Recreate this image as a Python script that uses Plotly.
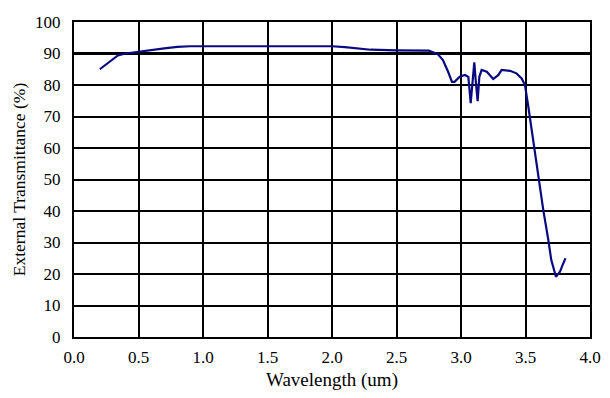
import plotly.graph_objects as go

wavelength = [0.20, 0.25, 0.30, 0.34, 0.40, 0.50, 0.60, 0.70, 0.80, 0.90, 1.20, 1.60, 2.00,
              2.10, 2.20, 2.30, 2.50, 2.75, 2.82, 2.86, 2.90, 2.93, 2.95, 2.99, 3.03, 3.057,
              3.075, 3.09, 3.103, 3.116, 3.129, 3.142, 3.16, 3.20, 3.25, 3.29, 3.315, 3.38,
              3.43, 3.47, 3.496, 3.522, 3.548, 3.58, 3.60, 3.638, 3.677, 3.70, 3.736, 3.767,
              3.788, 3.81]
transmittance = [85.0, 86.6, 88.0, 89.4, 90.0, 90.6, 91.1, 91.6, 92.1, 92.3, 92.3, 92.3, 92.3,
                 92.0, 91.6, 91.2, 91.0, 90.9, 89.8, 87.9, 84.2, 81.0, 81.0, 82.6, 83.2, 82.6,
                 74.2, 80.5, 87.2, 80.5, 74.9, 82.6, 84.8, 84.2, 81.9, 83.2, 84.8, 84.5,
                 83.7, 82.1, 80.0, 73.1, 65.7, 56.7, 50.9, 40.3, 30.8, 24.4, 19.1, 20.7,
                 22.9, 25.0]

x_ticks = [0, 0.5, 1.0, 1.5, 2.0, 2.5, 3.0, 3.5, 4.0]
y_ticks = [0, 10, 20, 30, 40, 50, 60, 70, 80, 90, 100]

fig = go.Figure()
fig.add_trace(go.Scatter(x=wavelength, y=transmittance, mode="lines",
                         line=dict(color="#0a0a80", width=2.2), showlegend=False))

fig.add_shape(type="line", xref="x", yref="y", x0=0, x1=4, y0=90, y1=90,
              line=dict(color="black", width=3), layer="below")

font = dict(family="Liberation Serif", size=17, color="black")

fig.update_layout(
    width=610, height=398,
    margin=dict(l=66, r=28, t=14, b=69),
    paper_bgcolor="white", plot_bgcolor="white",
    font=font,
    xaxis=dict(range=[0, 4], tickvals=x_ticks, ticktext=[f"{v:.1f}" for v in x_ticks],
               showgrid=True, gridcolor="black", gridwidth=2, automargin=False,
               showline=True, linecolor="black", linewidth=2, mirror=True,
               zeroline=False, ticks="", ticklabelstandoff=4,
               tickfont=dict(family="Liberation Serif", size=17, color="black"),
               title=dict(text="Wavelength (um)",
                          font=dict(family="Liberation Serif", size=19, color="black"),
                          standoff=6)),
    yaxis=dict(range=[0, 100], tickvals=y_ticks, automargin=False,
               showgrid=True, gridcolor="black", gridwidth=2,
               showline=True, linecolor="black", linewidth=2, mirror=True,
               zeroline=False, ticks="", ticklabelstandoff=8,
               tickfont=dict(family="Liberation Serif", size=17, color="black"),
               title=dict(text="External Transmittance (%)",
                          font=dict(family="Liberation Serif", size=17.5, color="black"),
                          standoff=5)),
)

fig.write_html("out.html")
